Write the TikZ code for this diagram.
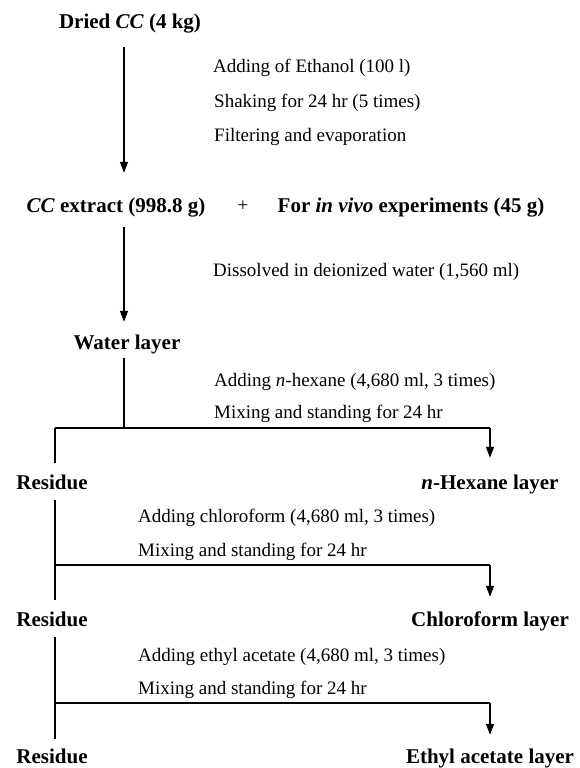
\documentclass[tikz,border=0pt]{standalone}
\usepackage{fontspec}
\setmainfont{Liberation Serif}
\usetikzlibrary{arrows.meta}
\begin{document}
\begin{tikzpicture}[x=1pt,y=-1pt,
  bnode/.style={font=\fontsize{21}{25}\selectfont\bfseries, inner sep=0pt, text height=15pt, text depth=5pt},
  tnode/.style={font=\fontsize{19}{23}\selectfont, inner sep=0pt, anchor=base west},
  ln/.style={line width=1.1pt, black},
  arr/.style={ln, -{Triangle[length=11pt,width=8pt]}}]
\useasboundingbox (0,0) rectangle (580,768);
% main nodes (centres at caps centre + 2)
\node[bnode] (dried) at (130,24) {Dried \textit{CC} (4 kg)};
\node[tnode] (t1) at (213,73) {Adding of Ethanol (100 l)};
\node[tnode] (t2) at (214,107) {Shaking for 24 hr (5 times)};
\node[tnode] (t3) at (214,141) {Filtering and evaporation};
\node[bnode] (extract) at (116,207) {\textit{CC} extract (998.8 g)};
\node[font=\fontsize{19}{23}\selectfont, inner sep=0pt] (plus) at (243,206) {+};
\node[bnode] (vivo) at (411,207) {For \textit{in vivo} experiments (45 g)};
\node[tnode] (t4) at (213,276) {Dissolved in deionized water (1,560 ml)};
\node[bnode] (water) at (127,344) {Water layer};
\node[tnode] (t5) at (214,386) {Adding \textit{n}-hexane (4,680 ml, 3 times)};
\node[tnode] (t6) at (214,418) {Mixing and standing for 24 hr};
\node[bnode] (res1) at (52,484) {Residue};
\node[bnode] (hex) at (490,484) {\textit{n}-Hexane layer};
\node[tnode] (t7) at (138,522) {Adding chloroform (4,680 ml, 3 times)};
\node[tnode] (t8) at (138,556) {Mixing and standing for 24 hr};
\node[bnode] (res2) at (52,621) {Residue};
\node[bnode] (chl) at (490,621) {Chloroform layer};
\node[tnode] (t9) at (138,661) {Adding ethyl acetate (4,680 ml, 3 times)};
\node[tnode] (t10) at (138,694) {Mixing and standing for 24 hr};
\node[bnode] (res3) at (52,758) {Residue};
\node[bnode] (eth) at (490,758) {Ethyl acetate layer};
% junction coordinates
\coordinate (ax) at (124,0);
\coordinate (j1) at (124,428);
\coordinate (h1l) at (55,428);
\coordinate (h1r) at (490,428);
\coordinate (h2l) at (55,565);
\coordinate (h2r) at (490,565);
\coordinate (h3l) at (55,703);
\coordinate (h3r) at (490,703);
% connectors
\draw[arr, shorten <=13pt, shorten >=24pt] (dried.south -| ax) -- (extract.north -| ax);
\draw[arr, shorten <=10pt, shorten >=12pt] (extract.south -| ax) -- (water.north -| ax);
\draw[ln, shorten <=4pt] (water.south -| j1) -- (j1);
\draw[ln] (h1l) -- (h1r);
\draw[ln, shorten >=11pt] (h1l) -- (res1.north -| h1l);
\draw[arr, shorten >=16pt] (h1r) -- (hex.north);
\draw[ln, shorten <=6pt] (res1.south -| h2l) -- (h2l);
\draw[ln] (h2l) -- (h2r);
\draw[ln, shorten >=11pt] (h2l) -- (res2.north -| h2l);
\draw[arr, shorten >=14pt] (h2r) -- (chl.north);
\draw[ln, shorten <=6pt] (res2.south -| h3l) -- (h3l);
\draw[ln] (h3l) -- (h3r);
\draw[ln, shorten >=9pt] (h3l) -- (res3.north -| h3l);
\draw[arr, shorten >=13pt] (h3r) -- (eth.north);
\end{tikzpicture}
\end{document}
